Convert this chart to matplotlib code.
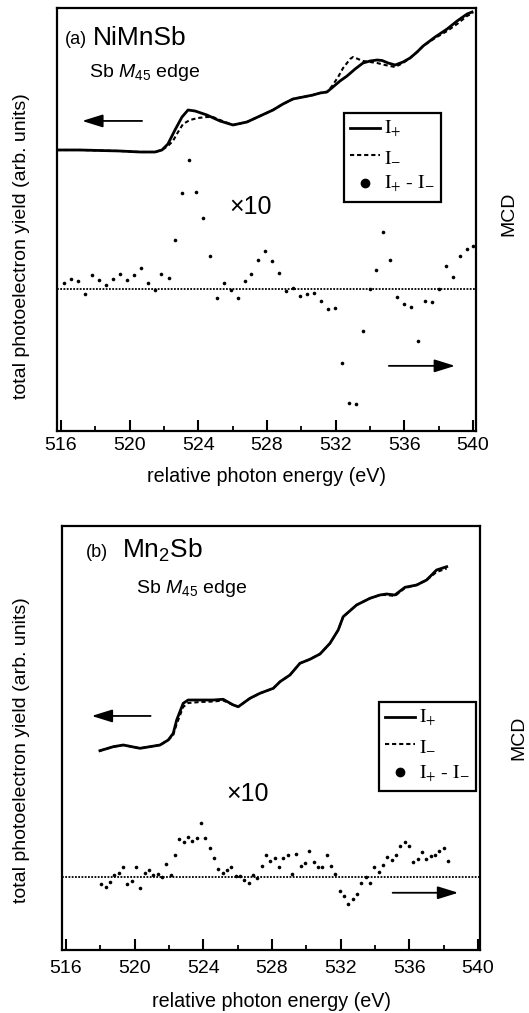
import matplotlib
matplotlib.use("Agg")
import matplotlib.pyplot as plt
from matplotlib.ticker import MultipleLocator
from matplotlib.lines import Line2D

plt.rcParams['font.family'] = ['Liberation Sans', 'DejaVu Sans']
plt.rcParams['mathtext.fontset'] = 'custom'
plt.rcParams['mathtext.rm'] = 'Liberation Sans'
plt.rcParams['mathtext.it'] = 'Liberation Sans:italic'
plt.rcParams['mathtext.bf'] = 'Liberation Sans:bold'

# ---------------- data: panel (a) NiMnSb ----------------
a_e_plus = [515.77, 517.11, 518.27, 519.44, 520.60, 521.48, 521.88, 522.23, 522.64, 523.05,
            523.40, 523.81, 524.50, 525.26, 526.02, 526.83, 527.59, 528.35, 528.93, 529.51,
            530.10, 530.68, 531.09, 531.49, 531.84, 532.25, 532.66, 533.13, 533.59, 534.00,
            534.41, 534.70, 535.05, 535.46, 535.92, 536.33, 536.74, 537.09, 537.79, 538.49,
            539.07, 539.65, 539.94]
a_i_plus = [281, 281, 280.5, 280, 279, 279, 281, 287, 301, 314,
            321, 320, 316, 310, 306, 309, 315, 321, 327, 332,
            334, 336, 338, 339, 344, 350, 355, 362, 368, 370,
            371, 370.5, 368, 366, 369, 373, 379, 385, 394, 402,
            410, 417, 419]
a_e_minus = [515.77, 517.11, 518.27, 519.44, 520.60, 521.48, 521.88, 522.23, 522.52, 522.82,
             523.11, 523.51, 523.98, 524.50, 524.85, 525.26, 526.02, 526.83, 527.59, 528.35,
             528.93, 529.51, 530.10, 530.68, 531.09, 531.49, 531.79, 532.14, 532.43, 532.66,
             532.84, 533.01, 533.30, 533.59, 534.00, 534.41, 534.87, 535.46, 535.92, 536.33,
             536.74, 537.09, 537.79, 538.49, 539.07, 539.65, 540.00]
a_i_minus = [281, 281, 280.5, 280, 279, 279, 281, 285, 290, 299,
             307, 311, 313, 314, 314, 311, 306, 309, 315, 321,
             327, 332, 334, 336, 338, 339, 345, 354, 363, 368,
             372, 374, 372, 370, 369, 368, 366, 364, 368, 373,
             379, 385, 393, 400, 407, 415, 418]
a_mcd_e = [516.17, 516.58, 517.01, 517.42, 517.81, 518.23, 518.62, 519.01, 519.42, 519.83,
           520.23, 520.64, 521.05, 521.46, 521.84, 522.27, 522.64, 523.05, 523.46, 523.85,
           524.25, 524.66, 525.07, 525.48, 525.89, 526.29, 526.70, 527.08, 527.49, 527.90,
           528.31, 528.72, 529.12, 529.53, 529.94, 530.33, 530.74, 531.15, 531.55, 531.96,
           532.37, 532.78, 533.18, 533.57, 533.98, 534.37, 534.77, 535.16, 535.59, 536.00,
           536.41, 536.81, 537.22, 537.59, 538.02, 538.43, 538.82, 539.22, 539.63, 540.02]
a_mcd = [5.7, 10, 8, -5.3, 13.7, 8.7, 3.7, 10.3, 15.3, 9,
         14, 20.7, 6.3, -0.7, 14.7, 11, 48.7, 96.3, 128.7, 96.7,
         70.7, 33, -9.3, 6.3, -1, -8.7, 8.3, 15, 29, 38.3,
         28, 15.7, -2, 1.3, -7, -4.7, -4, -12, -19.7, -18.7,
         -74.3, -113.7, -115.3, -42, 0, 19.3, 56.7, 29.3, -8.3, -15.3,
         -17.7, -52, -11.7, -13.3, 0, 23, 12.3, 33, 39.7, 43.3]

# ---------------- data: panel (b) Mn2Sb ----------------
b_e_plus = [517.98, 518.76, 519.34, 520.31, 520.89, 521.48, 521.96, 522.25, 522.45, 522.83,
            523.12, 523.81, 524.58, 525.16, 525.75, 526.04, 526.72, 527.30, 528.08, 528.47,
            529.05, 529.63, 530.21, 530.80, 531.38, 531.86, 532.15, 532.93, 533.71, 534.29,
            534.68, 535.16, 535.75, 536.43, 537.01, 537.59, 538.18]
b_i_plus = [199.3, 203.3, 205, 201.7, 203.3, 205, 210, 216.7, 230, 246.7,
            250, 250, 250, 250.7, 245, 243.3, 251.7, 256.7, 261.7, 268.3,
            275, 286.7, 290.7, 296, 306.7, 320, 333.3, 345, 351.7, 355,
            356, 355, 362.7, 365, 370, 380, 383.3]
b_e_minus = b_e_plus
b_i_minus = [199.3, 203.3, 205, 201.7, 203.3, 205, 210, 215, 226, 243,
             247, 248, 248.5, 249.5, 245, 243.3, 251.7, 256.7, 261.7, 268.3,
             275, 286.7, 290.7, 296, 306.7, 320, 333.3, 345, 351.7, 355,
             355, 354, 362, 365, 370, 378, 381.5]
b_mcd_e = [518.02, 518.33, 518.56, 518.81, 519.07, 519.32, 519.57, 519.83, 520.08, 520.33,
           520.58, 520.83, 521.09, 521.34, 521.59, 521.84, 522.10, 522.35, 522.60, 522.86,
           523.11, 523.36, 523.61, 523.86, 524.11, 524.37, 524.62, 524.87, 525.13, 525.38,
           525.63, 525.89, 526.14, 526.39, 526.64, 526.89, 527.14, 527.40, 527.65, 527.90,
           528.16, 528.41, 528.66, 528.91, 529.16, 529.42, 529.67, 529.92, 530.17, 530.43,
           530.68, 530.93, 531.19, 531.44, 531.69, 531.94, 532.19, 532.44, 532.70, 532.95,
           533.20, 533.46, 533.71, 533.96, 534.21, 534.47, 534.72, 534.97, 535.22, 535.47,
           535.73, 535.98, 536.23, 536.49, 536.74, 536.99, 537.24, 537.49, 537.75, 538.00,
           538.25]
b_mcd = [-7, -10.3, -4.7, 2, 3.7, 10.3, -7, -4, 9.7, -10.7,
         3.7, 7, 1.7, 3, -0.3, 13, 2, 22, 38, 35.3,
         39.7, 36.3, 38.7, 53.7, 39, 28.7, 19.3, 7.7, 3.7, 7,
         10.3, 1, 1, -3, -6.3, 1.7, -0.7, 11.3, 22, 16.3,
         19.3, 10.3, 19.3, 22, 3.3, 23, 11.3, 14.3, 26.3, 15.3,
         10.3, 10.3, 22, 11, 2.7, -13.7, -19, -27, -22, -17,
         -6.3, -0.3, -6.3, 10.3, 4.7, 12, 19.7, 17, 22, 31,
         35.3, 31.3, 15.3, 17.7, 25.3, 18.3, 21, 22, 26, 29.3,
         16.3]

xticks_major = [516, 520, 524, 528, 532, 536, 540]
legend_labels = [r'$\mathrm{I}_{+}$', r'$\mathrm{I}_{-}$',
                 r'$\mathrm{I}_{+}$ - $\mathrm{I}_{-}$']

W, H = 529, 1013
fig = plt.figure(figsize=(W / 100, H / 100), dpi=100)

panels = [
    dict(rect=[57 / W, 1 - 431 / H, 419 / W, 423 / H], xlim=(515.77, 540.17),
         ylim=(0, 423), mylim=(-142, 281),
         ep=a_e_plus, ip=a_i_plus, em=a_e_minus, im=a_i_minus, me=a_mcd_e, mv=a_mcd,
         tag='(a)', name='NiMnSb', tagx=0.019, namex=0.086, tagy=0.915, namey=0.913,
         edgex=0.076, edgey=0.836, x10=(0.463, 0.530),
         larrow=((0.203, 0.733), (0.060, 0.733)), rarrow=((0.792, 0.154), (0.950, 0.154)),
         leg=(0.685, 0.752), ylab_y=1 - 246 / H, mcd=(509 / W, 1 - 214 / H),
         tpad=4, lpad=10),
    dict(rect=[62 / W, 1 - 950 / H, 418 / W, 424 / H], xlim=(515.77, 540.12),
         ylim=(0, 424), mylim=(-73, 351),
         ep=b_e_plus, ip=b_i_plus, em=b_e_minus, im=b_i_minus, me=b_mcd_e, mv=b_mcd,
         tag='(b)', name='Mn$_2$Sb', tagx=0.057, namex=0.144, tagy=0.927, namey=0.925,
         edgex=0.177, edgey=0.842, x10=(0.445, 0.368),
         larrow=((0.212, 0.552), (0.071, 0.552)), rarrow=((0.791, 0.135), (0.948, 0.135)),
         leg=(0.758, 0.585), ylab_y=1 - 750 / H, mcd=(519 / W, 1 - 738 / H),
         tpad=7, lpad=11),
]

for p in panels:
    ax = fig.add_axes(p['rect'])
    ax.plot(p['ep'], p['ip'], color='black', lw=2.0, solid_joinstyle='round')
    ax.plot(p['em'], p['im'], color='black', lw=1.5, linestyle=(0, (2, 1.4)))
    ax.set_xlim(*p['xlim'])
    ax.set_ylim(*p['ylim'])
    ax.set_yticks([])
    ax.set_xticks(xticks_major)
    ax.xaxis.set_minor_locator(MultipleLocator(2))
    ax.tick_params(axis='x', which='major', direction='in', length=8, width=1.5,
                   labelsize=14, pad=p['tpad'])
    ax.tick_params(axis='x', which='minor', direction='in', length=3.6, width=1.3)
    for s in ax.spines.values():
        s.set_linewidth(1.6)
    ax.set_xlabel('relative photon energy (eV)', fontsize=14.2, labelpad=p['lpad'])

    tw = ax.twinx()
    tw.set_ylim(*p['mylim'])
    tw.set_yticks([])
    tw.axhline(0, color='black', lw=1.3, linestyle=(0, (1, 0.8)))
    tw.plot(p['me'], p['mv'], 'o', color='black', ms=2.6, markeredgewidth=0)
    tw.set_xlim(*p['xlim'])
    for s in tw.spines.values():
        s.set_visible(False)

    ax.text(p['tagx'], p['tagy'], p['tag'], transform=ax.transAxes, fontsize=13,
            ha='left', va='baseline')
    ax.text(p['namex'], p['namey'], p['name'], transform=ax.transAxes, fontsize=19,
            ha='left', va='baseline')
    ax.text(p['edgex'], p['edgey'], 'Sb $\\mathit{M}_{45}$ edge', transform=ax.transAxes,
            fontsize=14, ha='left', va='baseline')
    ax.text(p['x10'][0], p['x10'][1], '\u00d710', transform=ax.transAxes, fontsize=18,
            ha='center', va='center')

    for (start, end) in (p['larrow'], p['rarrow']):
        ax.annotate('', xy=end, xytext=start, xycoords='axes fraction',
                    textcoords='axes fraction',
                    arrowprops=dict(arrowstyle='-|>,head_length=0.9,head_width=0.28',
                                    color='black', lw=1.3, shrinkA=0, shrinkB=0,
                                    mutation_scale=14))

    handles = [Line2D([], [], color='black', lw=2.0),
               Line2D([], [], color='black', lw=1.5, linestyle=(0, (2, 1.4))),
               Line2D([], [], color='black', marker='o', ms=6, lw=0)]
    leg = tw.legend(handles, legend_labels, loc='upper left', bbox_to_anchor=p['leg'],
                    frameon=True, fancybox=False, framealpha=1, edgecolor='black',
                    borderpad=0.32, handlelength=1.55, handletextpad=0.2,
                    labelspacing=0.42, borderaxespad=0,
                    prop=dict(family='Liberation Serif', size=14, math_fontfamily='stix'))
    leg.get_frame().set_linewidth(1.6)

    fig.text(22 / W, p['ylab_y'], 'total photoelectron yield (arb. units)', rotation=90,
             fontsize=14, ha='center', va='center')
    fig.text(p['mcd'][0], p['mcd'][1], 'MCD', rotation=90, fontsize=14,
             ha='center', va='center')

fig.savefig('out.png', dpi=100)
